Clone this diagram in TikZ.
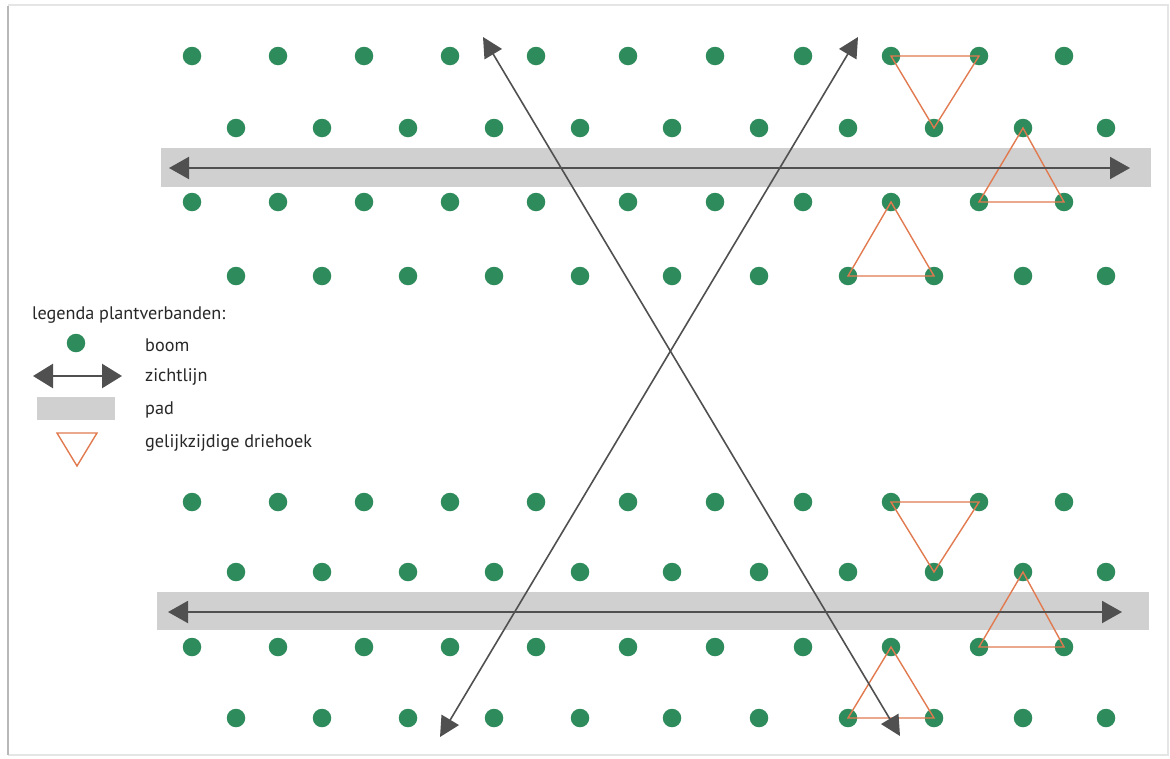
\documentclass[tikz,border=0pt]{standalone}
\usepackage{fontspec}
\setmainfont{PT Sans}
\usetikzlibrary{arrows.meta}
\definecolor{boomgreen}{RGB}{46,139,91}
\definecolor{padgray}{RGB}{208,208,208}
\definecolor{linegray}{RGB}{80,80,80}
\definecolor{trioranje}{RGB}{226,122,80}
\definecolor{txtgray}{RGB}{40,40,40}
\tikzset{
  boom/.style={circle,fill=boomgreen,minimum size=18.5pt,inner sep=0pt},
  padbox/.style={fill=padgray},
  zicht/.style={linegray,line width=2pt,{Triangle[length=20pt,width=22pt]}-{Triangle[length=20pt,width=22pt]}},
  zichtdiag/.style={linegray,line width=1.6pt,{Triangle[length=20pt,width=20pt]}-{Triangle[length=20pt,width=20pt]}},
  driehoek/.style={trioranje,line width=1.4pt,line join=miter},
  legtext/.style={anchor=west,inner sep=0pt,font=\fontsize{18.2pt}{20pt}\selectfont,text=txtgray},
}
\begin{document}
\begin{tikzpicture}[x=1pt,y=-1pt]
\useasboundingbox (0,0) rectangle (1170,758);
\fill[white] (0,0) rectangle (1170,758);
% frame
\draw[black!10,line width=1.5pt] (8,5) -- (1168,5) -- (1168,755) -- (8,755);
\draw[black!28,line width=2pt] (8,6) -- (8,755);
% paths
\fill[padgray] (161,148) rectangle (1151,187);
\fill[padgray] (157,592) rectangle (1149,630);
% trees
\foreach \r/\y in {1/56,3/202,5/502,7/647}{
  \foreach \x [count=\c] in {192,278,364,450,536,628,715,803,891,979,1064}{
    \node[boom] (r\r c\c) at (\x,\y) {};
  }
}
\foreach \r/\y in {2/128,4/276,6/572,8/718}{
  \foreach \x [count=\c] in {236,322,408,494,580,672,759,848,934,1023,1106}{
    \node[boom] (r\r c\c) at (\x,\y) {};
  }
}
% triangles
\draw[driehoek] (r1c9.center) -- (r1c10.center) -- (r2c9.center) -- cycle;
\draw[driehoek] (r2c10.center) -- (r3c10.center) -- (r3c11.center) -- cycle;
\draw[driehoek] (r3c9.center) -- (r4c8.center) -- (r4c9.center) -- cycle;
\draw[driehoek] (r5c9.center) -- (r5c10.center) -- (r6c9.center) -- cycle;
\draw[driehoek] (r6c10.center) -- (r7c10.center) -- (r7c11.center) -- cycle;
\draw[driehoek] (r7c9.center) -- (r8c8.center) -- (r8c9.center) -- cycle;
% sight lines
\coordinate (h1l) at (169,168);
\coordinate (h1r) at (1130,168);
\coordinate (h2l) at (168,612);
\coordinate (h2r) at (1122,612);
\coordinate (d1a) at (483,37);
\coordinate (d1b) at (900,736);
\coordinate (d2a) at (858,37);
\coordinate (d2b) at (440,737);
\draw[zicht] (h1l) -- (h1r);
\draw[zicht] (h2l) -- (h2r);
\draw[zichtdiag] (d1a) -- (d1b);
\draw[zichtdiag] (d2a) -- (d2b);
% legend
\node[legtext] (legtitle) at (32,315) {legenda plantverbanden:};
\node[boom] (legboom) at (76,343) {};
\node[legtext] (lboom) at (145,345) {boom};
\coordinate (lzl) at (33,376);
\coordinate (lzr) at (122,376);
\draw[linegray,line width=2.5pt,{Triangle[length=20pt,width=24pt]}-{Triangle[length=20pt,width=24pt]}] (lzl) -- (lzr);
\node[legtext] (lzicht) at (145,377) {zichtlijn};
\fill[padgray] (37,397) rectangle (115,420);
\node[legtext] (lpad) at (145,410) {pad};
\coordinate (lt1) at (57,433);
\coordinate (lt2) at (97,433);
\coordinate (lt3) at (77,466);
\draw[driehoek] (lt1) -- (lt2) -- (lt3) -- cycle;
\node[legtext] (ldrie) at (145,443) {gelijkzijdige driehoek};
\end{tikzpicture}
\end{document}
